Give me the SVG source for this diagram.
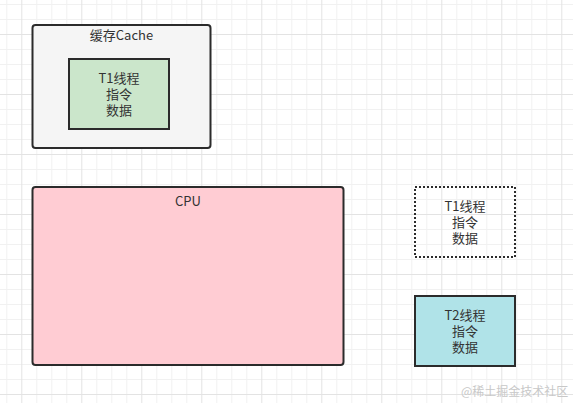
<svg xmlns="http://www.w3.org/2000/svg" width="573" height="403" viewBox="0 0 573 403">
  <defs>
    <pattern id="grid" x="21.3" y="34" width="60" height="60" patternUnits="userSpaceOnUse">
      <rect x="15" y="0" width="1" height="60" fill="#f1f1f1"/>
      <rect x="30" y="0" width="1" height="60" fill="#f1f1f1"/>
      <rect x="45" y="0" width="1" height="60" fill="#f1f1f1"/>
      <rect x="0" y="15" width="60" height="1" fill="#f1f1f1"/>
      <rect x="0" y="30" width="60" height="1" fill="#f1f1f1"/>
      <rect x="0" y="45" width="60" height="1" fill="#f1f1f1"/>
      <rect x="0" y="0" width="1" height="60" fill="#e3e3e3"/>
      <rect x="0" y="0" width="60" height="1" fill="#e3e3e3"/>
    </pattern>
  </defs>
  <style>
    .box { stroke: #2b2b2b; stroke-width: 2; }
    .lbl { font-family: "Noto Sans CJK SC", "Liberation Sans", sans-serif; font-size: 13px; fill: #333333; text-anchor: middle; }
    .wm { font-family: "Noto Sans CJK SC", sans-serif; font-size: 12px; fill: #c8c8c8; }
  </style>
  <rect width="573" height="403" fill="#ffffff"/>
  <rect width="573" height="403" fill="url(#grid)"/>

  <g id="cache">
    <rect class="box" x="32.5" y="25" width="178" height="123" rx="3" fill="#f5f5f5"/>
    <text class="lbl" x="121.5" y="39.5">缓存Cache</text>
  </g>

  <g id="t1-in-cache">
    <rect class="box" x="69" y="59" width="100" height="70" fill="#cbe6cb"/>
    <text class="lbl" x="119" y="83"><tspan x="119" y="83">T1线程</tspan><tspan x="119" y="99">指令</tspan><tspan x="119" y="115">数据</tspan></text>
  </g>

  <g id="cpu">
    <rect class="box" x="32.5" y="187" width="311" height="178" rx="3" fill="#ffccd3"/>
    <text class="lbl" x="188" y="205.5">CPU</text>
  </g>

  <g id="t1-dotted">
    <rect x="415" y="187" width="100" height="70" fill="none" stroke="#2b2b2b" stroke-width="2" stroke-dasharray="2 2"/>
    <text class="lbl" x="465" y="211"><tspan x="465" y="211">T1线程</tspan><tspan x="465" y="227">指令</tspan><tspan x="465" y="243">数据</tspan></text>
  </g>

  <g id="t2">
    <rect class="box" x="415" y="296" width="100" height="70" fill="#b0e3e8"/>
    <text class="lbl" x="465" y="320"><tspan x="465" y="320">T2线程</tspan><tspan x="465" y="336">指令</tspan><tspan x="465" y="352">数据</tspan></text>
  </g>

  <g id="connectors"></g>

  <text class="wm" x="461" y="396">@稀土掘金技术社区</text>
</svg>
